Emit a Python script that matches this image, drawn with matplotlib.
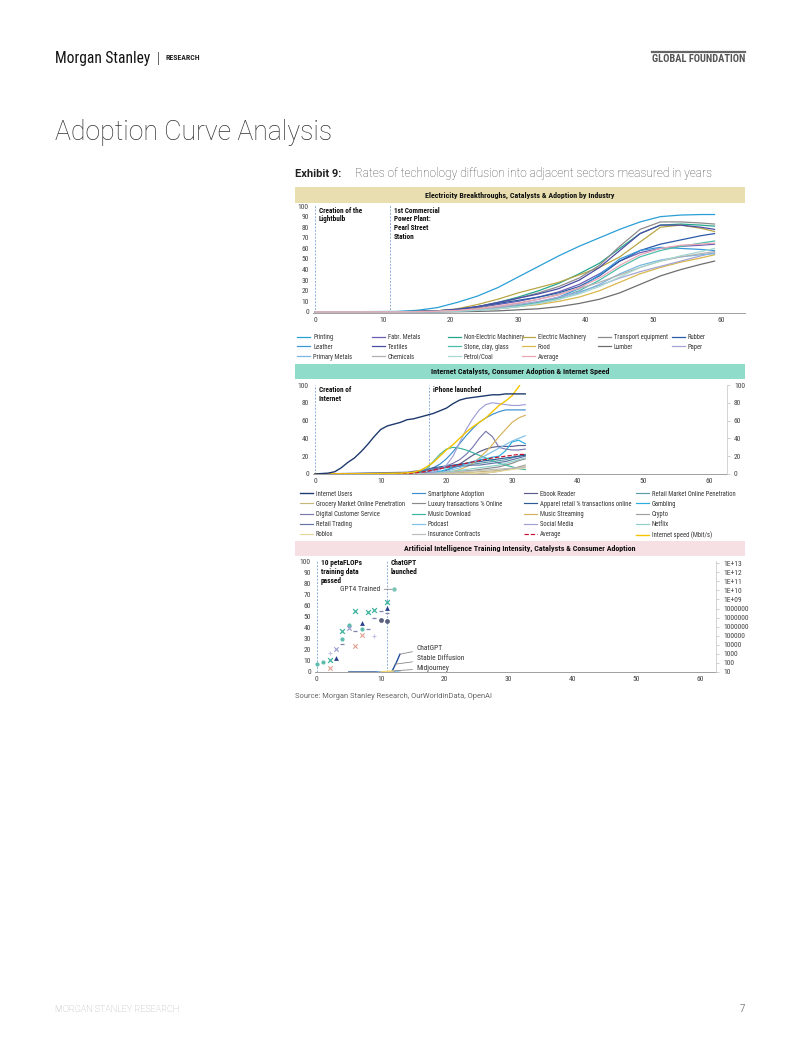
import matplotlib
matplotlib.use('Agg')
import matplotlib.pyplot as plt
from matplotlib import font_manager
from matplotlib.font_manager import FontProperties
from matplotlib.patches import Rectangle
from matplotlib.lines import Line2D

# ---------------- DATA ----------------
# Panel 1: electricity adoption by industry (years after lightbulb)
elec_years = [0, 12, 15, 18, 21, 24, 27, 30, 33, 36, 39, 42, 45, 48, 51, 54, 57, 59]
printing = [0, 0.5, 1.5, 4, 9, 15, 23, 33, 43, 53, 62, 70, 78, 85, 90, 91.5, 92, 92]
fabr_metals = [0, 0, 0.3, 1, 2, 4, 7, 10, 14, 19, 26, 36, 48, 56, 60, 62, 63, 64]
non_elec_mach = [0, 0, 0.3, 1, 2, 5, 9, 14, 20, 27, 36, 46, 60, 74, 82, 83, 82, 81]
elec_mach = [0, 0, 0.5, 1, 3, 7, 12, 18, 23, 28, 35, 42, 52, 66, 80, 82, 79, 76]
transport = [0, 0, 0.2, 0.5, 1.5, 4, 8, 13, 18, 24, 32, 44, 62, 78, 85, 85, 84, 83]
rubber = [0, 0, 0.5, 1, 2.5, 5, 8, 11, 14, 18, 24, 34, 48, 58, 64, 68, 72, 74]
leather = [0, 0, 0.2, 0.5, 1, 2, 4, 6, 9, 14, 22, 35, 50, 58, 61, 60, 59, 58]
textiles = [0, 0, 0.3, 1, 2.5, 5, 9, 13, 17, 22, 30, 42, 58, 74, 82, 82, 80, 78]
stone_clay = [0, 0, 0.2, 0.5, 1, 2, 4, 6, 9, 13, 20, 30, 42, 52, 58, 62, 65, 67]
food = [0, 0, 0.2, 0.5, 1, 2, 3, 5, 7, 10, 14, 20, 28, 36, 42, 47, 51, 54]
lumber = [0, 0, 0, 0, 0.2, 0.5, 1, 2, 3, 5, 8, 12, 18, 26, 34, 40, 45, 48]
paper = [0, 0, 0.1, 0.3, 0.8, 2, 4, 7, 10, 14, 19, 25, 32, 38, 43, 48, 53, 56]
primary_metals = [0, 0, 0.1, 0.3, 0.8, 1.5, 3, 5, 8, 12, 18, 26, 36, 44, 49, 52, 54, 55]
chemicals = [0, 0, 0.2, 0.5, 1.2, 2.5, 5, 8, 12, 17, 22, 28, 35, 42, 48, 52, 55, 57]
petrol_coal = [0, 0, 0.1, 0.3, 0.8, 1.5, 3, 5, 8, 12, 17, 24, 33, 42, 48, 53, 57, 60]
elec_average = [0, 0, 0.2, 0.6, 1.5, 3, 5.5, 8.5, 12, 16, 23, 32, 44, 54, 60, 63, 64, 65]

elec_series = [
    ('Printing', printing, '#2a9fd6'), ('Fabr. Metals', fabr_metals, '#6a5fb5'),
    ('Non-Electric Machinery', non_elec_mach, '#25a68c'), ('Electric Machinery', elec_mach, '#b8a646'),
    ('Transport equipment', transport, '#8c8c8c'), ('Rubber', rubber, '#2a5aa8'),
    ('Leather', leather, '#3a9ad9'), ('Textiles', textiles, '#4c4ca6'),
    ('Stone, clay, glass', stone_clay, '#4cbfaa'), ('Food', food, '#d9b84c'),
    ('Lumber', lumber, '#6e6e6e'), ('Paper', paper, '#a4a4d4'),
    ('Primary Metals', primary_metals, '#7ab8e0'), ('Chemicals', chemicals, '#b0b0b0'),
    ('Petrol/Coal', petrol_coal, '#a8d8d0'), ('Average', elec_average, '#eba6b6'),
]
elec_events = [0, 11]
elec_event_labels = ['Creation of the\nLightbulb', '1st Commercial\nPower Plant:\nPearl Street\nStation']

# Panel 2: internet catalysts & consumer adoption
inet_years_full = list(range(0, 33))
internet_users = [0, 0.5, 1, 2.5, 7, 13, 18, 25, 33, 42, 50, 54, 56, 58, 61, 62, 64, 66, 68, 71,
                  74, 79, 83, 85, 86, 87, 88, 89, 89, 90, 90, 90, 90]
internet_speed = [0, 0, 0.1, 0.1, 0.2, 0.2, 0.3, 0.3, 0.4, 0.5, 0.6, 0.7, 0.8, 1, 1.3, 2, 4, 8,
                  13, 20, 27, 33, 40, 47, 53, 58, 63, 70, 77, 82, 88, 98, 110]
inet_years = [0] + list(range(14, 33))
smartphone = [0, 0.5, 1, 2, 4, 7, 11, 17, 25, 34, 43, 51, 58, 63, 67, 70, 72, 72, 72, 72]
ebook = [0, 0, 0, 0, 0.3, 1, 2, 4, 7, 11, 16, 21, 25, 28, 30, 31, 31, 31, 32, 32]
retail_online = [0, 1, 1.5, 2.5, 4, 5, 6, 7, 8, 9, 10, 11, 12, 13, 14, 15, 16, 18, 20, 22]
grocery_online = [0, 0, 0, 0, 0, 0.5, 0.5, 1, 1, 1.5, 2, 2, 2.5, 3, 3.5, 4, 5, 6, 7, 8]
luxury_online = [0, 0, 0, 0, 0.5, 1, 1.5, 2, 2.5, 3, 3.5, 4, 5, 6, 7, 8, 10, 12, 15, 17]
apparel_online = [0, 1, 2, 3, 5, 7, 8, 9, 10, 11, 12, 13, 14, 15, 16, 17, 18, 19, 20, 21]
gambling = [0, 0, 0, 0, 1, 2, 3, 5, 7, 9, 12, 14, 16, 17, 19, 20, 26, 36, 38, 34]
digital_cs = [0, 0, 0, 1, 2, 4, 6, 9, 12, 16, 22, 30, 40, 48, 42, 30, 28, 27, 27, 28]
music_download = [0, 0, 0.5, 2, 6, 14, 22, 28, 30, 29, 27, 24, 21, 18, 15, 12, 10, 8, 6, 5]
music_streaming = [0, 0, 0, 0, 0, 0.5, 1, 2, 3, 5, 8, 12, 18, 25, 33, 42, 50, 58, 63, 66]
crypto = [0, 0, 0, 0, 0, 0, 0, 0, 0, 0, 0, 0, 0.5, 1, 2, 3, 5, 6, 8, 10]
retail_trading = [0, 2, 3, 4, 5, 6, 7, 8, 8, 9, 9, 10, 10, 11, 12, 13, 14, 16, 18, 20]
podcast = [0, 0, 0, 0, 0.5, 1, 2, 3, 5, 7, 10, 13, 17, 21, 25, 29, 33, 37, 40, 43]
social_media = [0, 0, 0, 0, 0.5, 2, 5, 10, 20, 35, 50, 62, 72, 78, 80, 79, 78, 77, 77, 78]
netflix = [0, 0, 0, 0, 0, 0.5, 1, 2, 3, 4, 5, 6, 7, 8, 9, 10, 12, 14, 16, 18]
roblox = [0, 0, 0, 0, 0, 0, 0, 0, 0, 0, 0, 0.5, 1, 1.5, 2, 3, 4, 5, 6, 7]
insurance = [0, 0, 0, 0, 0, 0.5, 1, 1.5, 2, 2.5, 3, 3.5, 4, 4.5, 5, 5.5, 6, 6.5, 7, 7.5]
inet_average = [0, 0.5, 1, 2, 3, 4.5, 6, 7.5, 9, 10.5, 12, 13.5, 15, 16.5, 18, 19, 20, 21, 22, 22]

inet_series = [
    ('Internet Users', inet_years_full, internet_users, '#1f3a6e', '-'),
    ('Smartphone Adoption', inet_years, smartphone, '#3b8fd0', '-'),
    ('Ebook Reader', inet_years, ebook, '#5c5c8a', '-'),
    ('Retail Market Online Penetration', inet_years, retail_online, '#5a9ea8', '-'),
    ('Grocery Market Online Penetration', inet_years, grocery_online, '#c8b878', '-'),
    ('Luxury transactions % Online', inet_years, luxury_online, '#8a8a8a', '-'),
    ('Apparel retail % transactions online', inet_years, apparel_online, '#2c5a96', '-'),
    ('Gambling', inet_years, gambling, '#2aaee0', '-'),
    ('Digital Customer Service', inet_years, digital_cs, '#7a7ab0', '-'),
    ('Music Download', inet_years, music_download, '#3cb4a0', '-'),
    ('Music Streaming', inet_years, music_streaming, '#d4b45a', '-'),
    ('Crypto', inet_years, crypto, '#a0a0a0', '-'),
    ('Retail Trading', inet_years, retail_trading, '#6474a8', '-'),
    ('Podcast', inet_years, podcast, '#80c0e8', '-'),
    ('Social Media', inet_years, social_media, '#a0a0d8', '-'),
    ('Netflix', inet_years, netflix, '#8ed0c8', '-'),
    ('Roblox', inet_years, roblox, '#e8d898', '-'),
    ('Insurance Contracts', inet_years, insurance, '#bdbdbd', '-'),
    ('Average', inet_years, inet_average, '#c8102e', '--'),
    ('Internet speed (Mbit/s)', inet_years_full, internet_speed, '#f5c400', '-'),
]
inet_events = [0, 17.3]
inet_event_labels = ['Creation of\nInternet', 'iPhone launched']

# Panel 3: AI training intensity
ai_circle_x, ai_circle_y = [0, 1, 4, 5, 7], [7, 9, 30, 42, 39]
ai_xteal_x, ai_xteal_y = [2, 4, 6, 8, 9, 11], [11, 37, 55, 54, 56, 63]
ai_xpink_x, ai_xpink_y = [2, 6, 7], [4, 23, 33]
ai_xlav_x, ai_xlav_y = [3, 5], [21, 40]
ai_tri_x, ai_tri_y = [3, 7, 11], [13, 44, 58]
ai_navy_x, ai_navy_y = [10, 11], [47, 46]
ai_dash_x, ai_dash_y = [4, 6, 8, 9, 10, 11], [25, 37, 39, 49, 55, 53]
ai_plus_x, ai_plus_y = [2, 9], [17, 32]
gpt4_x, gpt4_y = [12], [74.5]
chatgpt_x, chatgpt_y = [5, 11.7, 12.4, 13.0], [0, 0, 8, 16]
sd_x, sd_y = [9.5, 11, 12, 13], [0, 0, 0.5, 1]
mj_x, mj_y = [10, 11, 12], [0, 0.5, 1]
ai_events = [0, 11]
ai_event_labels = ['10 petaFLOPs\ntraining data\npassed', 'ChatGPT\nlaunched']
ai_right_ticks = [10 ** k for k in range(1, 14)]
ai_right_labels = ['10', '100', '1000', '10000', '100000', '1000000', '1000000', '1000000',
                   '1E+09', '1E+10', '1E+11', '1E+12', '1E+13']

# ---------------- FONTS ----------------
W, H = 802, 1037
avail = {f.name for f in font_manager.fontManager.ttflist}
BASE = 'Roboto' if 'Roboto' in avail else 'DejaVu Sans'
plt.rcParams['font.family'] = [BASE, 'DejaVu Sans']


def _weight(f):
    w = f.weight
    if isinstance(w, str):
        w = font_manager.weight_dict.get(w, 400)
    return w


def is_cond(f):
    st = str(f.stretch).lower()
    return ('Condensed' in f.name or 'Narrow' in f.name or 'Condensed' in f.fname
            or 'Narrow' in f.fname or st in ('condensed', 'semi-condensed'))


def pick_condensed(bold):
    cands = []
    for f in font_manager.fontManager.ttflist:
        if not is_cond(f) or f.style != 'normal':
            continue
        st = str(f.stretch).lower()
        if 'extra' in st or 'ultra' in st or 'ExtraCondensed' in f.fname:
            continue
        w = _weight(f)
        if bold and (w < 650 or w > 750):
            continue
        if not bold and (w < 380 or w > 420):
            continue
        if not bold and ('Medium' in f.fname or 'Bold' in f.fname or 'Light' in f.fname):
            continue
        cands.append(f)
    pref = ['Roboto', 'Liberation', 'Open Sans', 'Noto Sans', 'Lato', 'DejaVu']

    def key(f):
        for i, p in enumerate(pref):
            if f.name.startswith(p):
                return (i, '[' in f.fname, 'Semi' in f.fname)
        return (99, True, True)
    cands.sort(key=key)
    return cands[0].fname if cands else None


COND_REG = pick_condensed(False)
COND_BOLD = pick_condensed(True)


def fp(size, bold=False):
    path = COND_BOLD if bold else COND_REG
    if path:
        return FontProperties(fname=path, size=size)
    return FontProperties(family=BASE, weight='bold' if bold else 'normal', size=size * 0.85)


def fx(px):
    return px / W


def fy(py):
    return 1 - py / H


fig = plt.figure(figsize=(W / 100, H / 100), dpi=100)
fig.patch.set_facecolor('white')

TICK_FS = 5.4
LEG_FS = 4.8
EVT_COLOR = '#8fb0d8'

# header
fig.text(fx(55), fy(58), 'Morgan Stanley', fontproperties=fp(11.2), color='#111', va='center', ha='left')
fig.add_artist(Line2D([fx(158), fx(158)], [fy(52), fy(64)], color='#666', lw=0.7))
fig.text(fx(165), fy(58), 'RESEARCH', fontproperties=fp(5.6, True), color='#222', va='center', ha='left')
fig.add_artist(Line2D([fx(652), fx(745)], [fy(52), fy(52)], color='#666', lw=1.6))
fig.text(fx(745), fy(59), 'GLOBAL FOUNDATION', fontproperties=fp(7.5, True), color='#555',
         va='center', ha='right')

fig.text(fx(55), fy(133), 'Adoption Curve Analysis', fontsize=19.2, fontweight='light', color='#333',
         va='center', ha='left')
fig.text(fx(295), fy(174), 'Exhibit 9:', fontsize=8, fontweight='bold', color='#222', va='center', ha='left')
fig.text(fx(355), fy(174), 'Rates of technology diffusion into adjacent sectors measured in years',
         fontsize=8.6, color='#444', va='center', ha='left', fontweight='light')


def band(top, bottom, color, title):
    fig.add_artist(Rectangle((fx(295), fy(bottom)), fx(745) - fx(295), (bottom - top) / H,
                             transform=fig.transFigure, facecolor=color, edgecolor='none'))
    fig.text(fx(520), fy((top + bottom) / 2), title, fontproperties=fp(5.8, True),
             color='#111', ha='center', va='center')


def add_axes(l, t, r, b):
    return fig.add_axes([fx(l), fy(b), (r - l) / W, (b - t) / H])


def style_axes(ax):
    for s in ['top', 'left', 'right']:
        ax.spines[s].set_visible(False)
    ax.spines['bottom'].set_color('#a0a0a0')
    ax.spines['bottom'].set_linewidth(0.7)
    ax.tick_params(axis='both', length=0, colors='#444', pad=3)
    ax.set_facecolor('none')


def font_ticks(ax):
    for lab in ax.get_xticklabels() + ax.get_yticklabels():
        lab.set_fontproperties(fp(TICK_FS))


def events(ax, xs, labels, ytop, fs):
    for x, lab in zip(xs, labels):
        ax.axvline(x, color=EVT_COLOR, lw=0.7, ls=(0, (2, 1.5)), zorder=1)
        ax.text(x + 0.6, ytop, lab, fontproperties=fp(fs, True), color='#111',
                ha='left', va='top', linespacing=1.15)


def column_legends(handles, labels, ncol, col_x, top_py, labelspacing):
    n = len(handles)
    for c in range(ncol):
        idx = list(range(c, n, ncol))
        leg = fig.legend([handles[i] for i in idx], [labels[i] for i in idx], loc='upper left',
                         bbox_to_anchor=(fx(col_x[c]), fy(top_py)), bbox_transform=fig.transFigure,
                         frameon=False, prop=fp(LEG_FS), handlelength=2.0, handletextpad=0.4,
                         borderpad=0, borderaxespad=0, labelspacing=labelspacing)
        for t in leg.get_texts():
            t.set_color('#333')


# ---------- Panel 1 ----------
band(187, 203, '#e9deb0', 'Electricity Breakthroughs, Catalysts & Adoption by Industry')
ax1 = add_axes(313, 205, 745, 313)
style_axes(ax1)
h1, l1 = [], []
for name, vals, col in elec_series:
    ln, = ax1.plot(elec_years, vals, color=col, lw=0.9, zorder=2)
    h1.append(ln)
    l1.append(name)
ax1.set_xlim(-0.3, 63.5)
ax1.set_ylim(-1, 101)
ax1.set_xticks(range(0, 61, 10))
ax1.set_yticks(range(0, 101, 10))
font_ticks(ax1)
events(ax1, elec_events, elec_event_labels, 99.5, 5.2)
column_legends(h1, l1, 6, [297, 372, 448, 522, 598, 672], 334, 0.42)

# ---------- Panel 2 ----------
band(364, 379, '#8edcc9', 'Internet Catalysts, Consumer Adoption & Internet Speed')
ax2 = add_axes(313, 385, 727, 474)
style_axes(ax2)
h2, l2 = [], []
for name, xs, vals, col, ls in inet_series:
    lw = 1.0 if name in ('Internet Users', 'Internet speed (Mbit/s)') else 0.85
    ln, = ax2.plot(xs, vals, color=col, lw=lw, ls=ls, zorder=3 if name == 'Internet Users' else 2)
    h2.append(ln)
    l2.append(name)
ax2.set_xlim(-0.3, 62.7)
ax2.set_ylim(0, 100)
ax2.set_xticks(range(0, 61, 10))
ax2.set_yticks(range(0, 101, 20))
font_ticks(ax2)
events(ax2, inet_events, inet_event_labels, 99, 5.2)
ax2r = ax2.twinx()
ax2r.set_ylim(0, 100)
ax2r.set_yticks(range(0, 101, 20))
for s in ['top', 'left', 'bottom']:
    ax2r.spines[s].set_visible(False)
ax2r.spines['right'].set_color('#cccccc')
ax2r.spines['right'].set_linewidth(0.6)
ax2r.tick_params(axis='y', length=2, width=0.5, color='#bbbbbb', labelcolor='#444', pad=3)
font_ticks(ax2r)
column_legends(h2, l2, 4, [300, 412, 524, 636], 490.5, 0.48)

# ---------- Panel 3 ----------
band(541, 556, '#f7e0e3', 'Artificial Intelligence Training Intensity, Catalysts & Consumer Adoption')
ax3 = add_axes(315, 561, 716, 672)
style_axes(ax3)
ax3.set_xlim(-0.3, 62.5)
ax3.set_ylim(0, 100)
ax3.set_xticks(range(0, 61, 10))
ax3.set_yticks(range(0, 101, 10))
font_ticks(ax3)
events(ax3, ai_events, ai_event_labels, 102, 5.3)
ax3.plot(chatgpt_x, chatgpt_y, color='#1f4e96', lw=1.0, zorder=3)
ax3.plot(sd_x, sd_y, color='#80c0e8', lw=1.0, zorder=3)
ax3.plot(mj_x, mj_y, color='#f5d76e', lw=1.0, zorder=3)
ax3.scatter(ai_circle_x, ai_circle_y, s=9, marker='o', color='#5cbcae', zorder=4, linewidths=0)
ax3.scatter(ai_xteal_x, ai_xteal_y, s=12, marker='x', color='#3fb39e', zorder=4, linewidths=0.9)
ax3.scatter(ai_xpink_x, ai_xpink_y, s=10, marker='x', color='#e3a08e', zorder=4, linewidths=0.8)
ax3.scatter(ai_xlav_x, ai_xlav_y, s=10, marker='x', color='#9a9ad0', zorder=4, linewidths=0.8)
ax3.scatter(ai_tri_x, ai_tri_y, s=12, marker='^', color='#2b3f8c', zorder=4, linewidths=0)
ax3.scatter(ai_navy_x, ai_navy_y, s=12, marker='o', color='#59607e', zorder=4, linewidths=0)
ax3.scatter(ai_dash_x, ai_dash_y, s=12, marker='_', color='#7f85a8', zorder=4, linewidths=0.9)
ax3.scatter(ai_plus_x, ai_plus_y, s=12, marker='+', color='#c2c2e4', zorder=4, linewidths=0.8)
ax3.scatter(gpt4_x, gpt4_y, s=10, marker='o', color='#7cc5b6', zorder=4, linewidths=0)
ann_fp = fp(5.4)
ax3.annotate('GPT4 Trained', xy=(gpt4_x[0], gpt4_y[0]), xytext=(9.9, gpt4_y[0]), fontproperties=ann_fp,
             color='#333', ha='right', va='center',
             arrowprops=dict(arrowstyle='-', color='#888', lw=0.6, shrinkA=1, shrinkB=1))
ax3.annotate('ChatGPT', xy=(chatgpt_x[-1], chatgpt_y[-1]), xytext=(15.6, 21.5), fontproperties=ann_fp,
             color='#333', ha='left', va='center',
             arrowprops=dict(arrowstyle='-', color='#888', lw=0.6, shrinkA=1, shrinkB=0))
ax3.annotate('Stable Diffusion', xy=(12.2, 7), xytext=(15.6, 12.5), fontproperties=ann_fp,
             color='#333', ha='left', va='center',
             arrowprops=dict(arrowstyle='-', color='#888', lw=0.6, shrinkA=1, shrinkB=0))
ax3.annotate('Midjourney', xy=(mj_x[-1], mj_y[-1]), xytext=(15.6, 3.5), fontproperties=ann_fp,
             color='#333', ha='left', va='center',
             arrowprops=dict(arrowstyle='-', color='#888', lw=0.6, shrinkA=1, shrinkB=0))
ax3r = ax3.twinx()
ax3r.set_yscale('log')
ax3r.set_ylim(10, 10 ** 13.24)
ax3r.set_yticks(ai_right_ticks)
ax3r.set_yticklabels(ai_right_labels)
ax3r.yaxis.set_minor_locator(matplotlib.ticker.NullLocator())
for s in ['top', 'left', 'bottom']:
    ax3r.spines[s].set_visible(False)
ax3r.spines['right'].set_color('#cccccc')
ax3r.spines['right'].set_linewidth(0.6)
ax3r.tick_params(axis='y', length=2, width=0.5, color='#bbbbbb', labelcolor='#444', pad=3)
font_ticks(ax3r)

fig.text(fx(295), fy(696), 'Source: Morgan Stanley Research, OurWorldinData, OpenAI', fontsize=5.4,
         color='#666', ha='left', va='center')

# footer
fig.text(fx(55), fy(1009), 'MORGAN STANLEY RESEARCH', fontsize=6.5, color='#aaaaaa', ha='left',
         va='center', fontweight='light')
fig.text(fx(745), fy(1009), '7', fontsize=7, color='#888888', ha='right', va='center')

fig.savefig('out.png', dpi=100, facecolor='white')
